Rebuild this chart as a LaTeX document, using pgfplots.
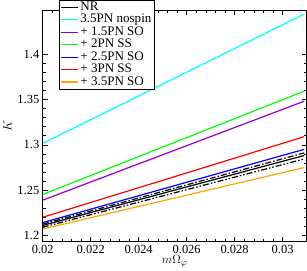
\documentclass[border=0pt]{standalone}
\usepackage{fontspec}
\setmainfont{Liberation Serif}
\usepackage{pgfplots}
\pgfplotsset{compat=1.18}
\definecolor{ncyan}{RGB}{0,255,255}
\definecolor{ngreen}{RGB}{0,255,0}
\definecolor{nviolet}{RGB}{148,0,211}
\definecolor{nblue}{RGB}{0,0,255}
\definecolor{nred}{RGB}{255,0,0}
\definecolor{norange}{RGB}{255,165,0}
\begin{document}
\begin{tikzpicture}
\begin{axis}[
  scale only axis,
  width=263pt, height=231pt,
  xmin=0.02, xmax=0.031,
  ymin=1.193, ymax=1.449,
  xtick={0.02,0.022,...,0.0301},
  ytick={1.2,1.25,1.3,1.35,1.4},
  scaled x ticks=false,
  scaled y ticks=false,
  minor x tick num=4,
  minor y tick num=4,
  tick align=inside,
  major tick length=5pt,
  minor tick length=3pt,
  axis line style={line width=0.8pt},
  every tick/.style={line width=0.6pt, black},
  xticklabel style={/pgf/number format/fixed,/pgf/number format/precision=3},
  yticklabel style={/pgf/number format/fixed,/pgf/number format/precision=2},
  /pgf/number format/assume math mode=true,
  tick label style={font=\fontsize{12.4}{12}\selectfont},
  label style={font=\fontsize{12.4}{12}\selectfont},
  xlabel={$m\Omega_{\varphi}$},
  ylabel={$K$},
  xlabel style={yshift=5pt},
  ylabel style={yshift=-1pt},
  legend cell align=left,
  legend style={at={(0.061,1.043)}, anchor=north west,
    font=\fontsize{13}{11}\selectfont, inner sep=1pt, row sep=0pt,
    nodes={text height=8.8pt, text depth=2.6pt, inner ysep=0.5pt}},
]
\addplot[line width=1.2pt, black, solid] coordinates {(0.02,1.2110) (0.0309,1.2882)};
\addlegendentry{NR}
\addplot[line width=1.2pt, ncyan] coordinates {(0.02,1.3016) (0.0309,1.4444)};
\addlegendentry{3.5PN nospin\hspace{7pt}}
\addplot[line width=1.2pt, nviolet] coordinates {(0.02,1.2389) (0.0309,1.3482)};
\addlegendentry{+ 1.5PN SO}
\addplot[line width=1.2pt, ngreen] coordinates {(0.02,1.2452) (0.0309,1.3593)};
\addlegendentry{+ 2PN SS}
\addplot[line width=1.2pt, nblue] coordinates {(0.02,1.2141) (0.0309,1.2950)};
\addlegendentry{+ 2.5PN SO}
\addplot[line width=1.2pt, nred] coordinates {(0.02,1.2200) (0.0309,1.3090)};
\addlegendentry{+ 3PN SS}
\addplot[line width=1.2pt, norange] coordinates {(0.02,1.2070) (0.0309,1.2749)};
\addlegendentry{+ 3.5PN SO}
\addplot[line width=1.2pt, black, dash pattern=on 6pt off 2pt on 1.5pt off 2pt, forget plot] coordinates {(0.02,1.2125) (0.0309,1.2911)};
\addplot[line width=1.2pt, black, dash pattern=on 6pt off 2pt on 1.5pt off 2pt on 1.5pt off 2pt, forget plot] coordinates {(0.02,1.2090) (0.0309,1.2844)};
\end{axis}
\end{tikzpicture}
\end{document}
